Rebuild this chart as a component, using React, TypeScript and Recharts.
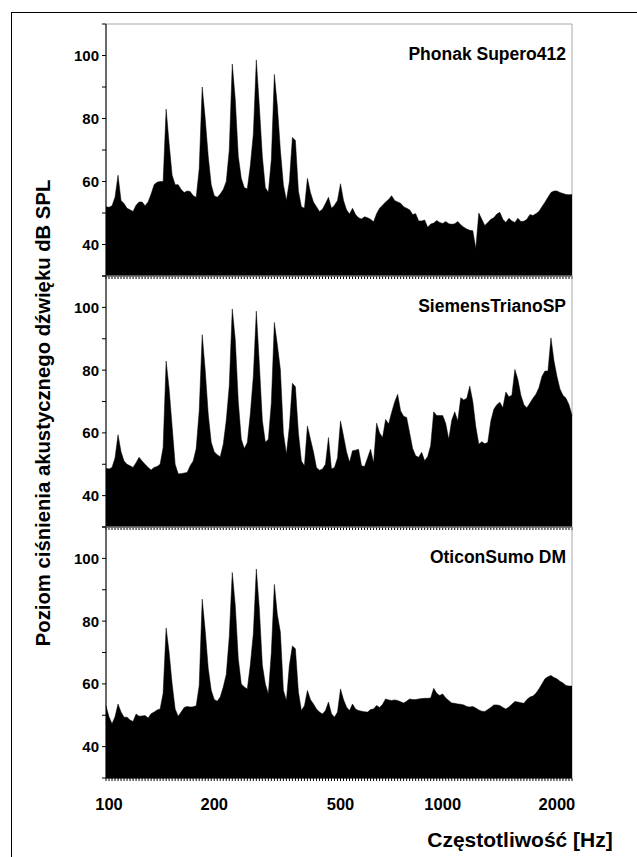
import { Area, AreaChart, ReferenceArea, XAxis, YAxis } from "recharts";

const FONT = '"Liberation Sans", Arial, sans-serif';

// Spectrum lines (category index) that carry a frequency label on the x axis.
const xTickIdx = [1, 36, 78, 112, 150];
const xTickText = ["100", "200", "500", "1000", "2000"];

const yTicks = [30, 40, 50, 60, 70, 80, 90, 100, 110];
const yLabelled = [40, 60, 80, 100];

// Sound pressure level [dB SPL], one value per spectrum line.
const phonak = [
  52, 51.8, 52.3, 55, 62, 54, 53, 51.5, 51, 50.5, 52.5, 53.5, 53.5, 52.3, 53.5, 56, 59, 59.8, 60, 60,
  83, 72, 62, 59, 59, 57.5, 56.5, 57, 56.8, 55.5, 55, 64, 90, 80, 68, 59, 55.5, 55, 56, 57.5,
  60, 70, 97.3, 86, 68, 61, 58, 57.7, 65, 75, 98.6, 84, 68, 58, 56.6, 67, 94, 84, 70, 59,
  54, 60, 74, 73, 57, 52, 51.5, 61, 56.5, 53.5, 52, 50.5, 51.2, 53, 55, 51.5, 52.5, 54, 59.3, 54,
  51, 49.7, 51.5, 49.5, 48.5, 48.1, 48.8, 48.5, 48, 47.2, 49.8, 51.5, 52.5, 53.5, 54.3, 55.5, 54, 53.5, 53.1, 52,
  51.5, 51, 49.5, 49.8, 47.5, 47.5, 47.8, 45.5, 46.5, 46.8, 47.6, 47, 46.7, 47.3, 46.6, 46.4, 46.6, 47.3, 46.3, 45.5,
  44.9, 44.5, 44.4, 38.7, 50, 48, 46, 47, 48, 48.5, 49.7, 50.2, 48, 47, 48.3, 47.5, 47, 48.3, 47.3, 47.4,
  48, 49.5, 49.2, 49.8, 50.5, 52, 53.4, 55, 56.5, 57, 57, 56.5, 56.2, 55.9, 55.8, 55.9,
];

const siemens = [
  48.7, 48.5, 49, 52, 59.4, 54, 51, 50, 49.5, 49, 50.5, 52.2, 51, 50, 49, 48.2, 49, 49.3, 50, 55.3,
  82.9, 74, 62, 50, 47, 47, 47.2, 47.4, 49.5, 51, 55, 67, 91.3, 80, 66, 57, 54, 53, 52.4, 56.4,
  64, 75, 99.5, 89.7, 70, 58, 55, 56.9, 66, 78, 98.8, 82, 64, 57, 58, 69.6, 95.2, 88, 80.2, 60,
  53.2, 62, 75.8, 74.7, 60, 51, 49.5, 62.2, 58, 54, 49, 48.1, 48.5, 50, 58.5, 48.5, 49, 52, 63.8, 59,
  54, 50.6, 54.3, 54.5, 54.8, 49.5, 49.3, 52, 54.8, 50.4, 63.1, 60, 58.5, 64.3, 62.8, 66.5, 69.8, 72.3, 67, 65.3,
  64.9, 60, 55, 52.7, 52.2, 53.8, 51.1, 52.5, 56, 66.7, 65.5, 65.5, 65.5, 63, 58, 64, 66.7, 63.8, 71.2, 70.5,
  71, 74.9, 70, 62, 56.4, 57.2, 56.5, 57, 63.8, 67.5, 69, 69.8, 68, 73, 71.5, 72, 80.2, 77, 72, 69,
  68, 69.5, 71, 72.3, 74.4, 78, 79.7, 79.7, 90.3, 83, 78, 74, 72, 71, 69, 65.6,
];

const oticon = [
  53, 49.5, 47.3, 49.5, 53.6, 51, 49.4, 49.4, 48.5, 48, 50.4, 49.7, 49.8, 49.9, 49.1, 50.5, 51, 51.7, 52, 57,
  77.8, 70, 60, 52, 49.7, 51, 52.5, 52.8, 52.6, 52.7, 53, 59.5, 87, 77, 65, 58, 55, 54.5, 55.8, 59,
  63, 75, 95.5, 85, 68, 60, 59, 58.4, 66, 76, 96.6, 84, 66, 60, 56.8, 70.1, 91.7, 82, 76.5, 58,
  54.7, 66, 72.1, 71.2, 57.4, 51.5, 53, 57.9, 55, 53.6, 52, 51, 50.4, 51.5, 54.2, 50.5, 49.4, 51, 58.4, 55,
  52.6, 51.5, 53.6, 52, 51.5, 51.3, 51.1, 51, 51.8, 52, 53.1, 52.5, 53.5, 55.2, 54.9, 54.7, 54.9, 54.7, 54.3, 53.9,
  54.5, 55.2, 55, 55, 55.2, 55.3, 55.4, 55.4, 55.5, 58.6, 57, 56.3, 56.8, 55.5, 54.7, 53.9, 53.8, 53.6, 53.5, 53.3,
  52.8, 52.6, 52.8, 52.3, 51.7, 51.3, 51.2, 51.8, 52.5, 53.3, 53.3, 53.1, 52.5, 52, 52.6, 53.5, 54.4, 54.2, 54, 53.8,
  55, 55.8, 56.1, 57, 58.4, 60, 61.6, 62.3, 62.7, 62, 61.6, 60.8, 60.3, 59.5, 59.3, 59.3,
];

const deviceNames = ["Phonak Supero412", "SiemensTrianoSP", "OticonSumo DM"];
const deviceValues = [phonak, siemens, oticon];

const PLOT_LEFT = 106;
const PLOT_RIGHT = 572;
const CHART_W = 600;
const PANEL_TOPS = [24, 276, 527];
const PANEL_BOTTOM = 778;

const EmptyTick = () => <g />;

const XLabelTick = (props: any) => {
  const { x, y, payload } = props;
  const k = xTickIdx.indexOf(payload.value);
  if (k < 0) return <g />;
  return (
    <text x={x} y={y} dy={27} textAnchor="middle" fontFamily={FONT} fontWeight="bold" fontSize={16.5} fill="#000">
      {xTickText[k]}
    </text>
  );
};

const YLabelTick = (props: any) => {
  const { x, y, payload } = props;
  if (!yLabelled.includes(payload.value)) return <g />;
  return (
    <text x={x} y={y} dy="0.36em" textAnchor="end" fontFamily={FONT} fontWeight="bold" fontSize={15} fill="#000">
      {payload.value}
    </text>
  );
};

function Panel({ values, top, plotH, bottomAxis }: { values: number[]; top: number; plotH: number; bottomAxis: boolean }) {
  const rows = values.map((v, i) => ({ i, v }));
  const last = rows.length - 1;
  const xh = bottomAxis ? 40 : 10;
  return (
    <div style={{ position: "absolute", left: 0, top: top - 5 }}>
      <AreaChart
        width={CHART_W}
        height={5 + plotH + xh}
        data={rows}
        margin={{ top: 5, right: CHART_W - PLOT_RIGHT, bottom: 0, left: 0 }}
      >
        <ReferenceArea x1={0} x2={last} y1={30} y2={110} fill="none" stroke="#a8a8a8" ifOverflow="visible" />
        <XAxis
          type="number"
          dataKey="i"
          domain={[0, last]}
          ticks={rows.map((r) => r.i)}
          interval={0}
          height={xh}
          tickSize={3}
          axisLine={{ stroke: "#000" }}
          tickLine={{ stroke: "#000" }}
          tick={bottomAxis ? XLabelTick : EmptyTick}
        />
        <YAxis
          type="number"
          domain={[30, 110]}
          ticks={yTicks}
          interval={0}
          width={PLOT_LEFT}
          tickSize={4}
          tickMargin={3}
          axisLine={{ stroke: "#000" }}
          tickLine={{ stroke: "#000" }}
          tick={YLabelTick}
        />
        <Area
          type="linear"
          dataKey="v"
          stroke="#000"
          strokeWidth={0.5}
          fill="#000"
          fillOpacity={1}
          dot={false}
          activeDot={false}
          isAnimationActive={false}
        />
      </AreaChart>
    </div>
  );
}

export default function App() {
  return (
    <div style={{ position: "fixed", left: 0, top: 0, width: 637, height: 857, overflow: "hidden", background: "#fff" }}>
      <div
        style={{
          position: "absolute",
          left: 11,
          top: 12,
          width: 700,
          height: 900,
          borderLeft: "1px solid #000",
          borderTop: "1px solid #000",
        }}
      />
      {deviceValues.map((vals, p) => {
        const top = PANEL_TOPS[p];
        const bottom = p < 2 ? PANEL_TOPS[p + 1] : PANEL_BOTTOM;
        return <Panel key={p} values={vals} top={top} plotH={bottom - top} bottomAxis={p === 2} />;
      })}
      <svg width={637} height={857} style={{ position: "absolute", left: 0, top: 0, pointerEvents: "none" }}>
        {deviceNames.map((name, p) => (
          <text
            key={name}
            x={566}
            y={PANEL_TOPS[p] + 36}
            textAnchor="end"
            fontFamily={FONT}
            fontWeight="bold"
            fontSize={17.5}
            fill="#000"
          >
            {name}
          </text>
        ))}
        <text x={520} y={847} textAnchor="middle" fontFamily={FONT} fontWeight="bold" fontSize={21} fill="#000">
          Częstotliwość [Hz]
        </text>
        <text
          transform="translate(50,413) rotate(-90)"
          textAnchor="middle"
          fontFamily={FONT}
          fontWeight="bold"
          fontSize={20.3}
          fill="#000"
        >
          Poziom ciśnienia akustycznego dźwięku dB SPL
        </text>
      </svg>
    </div>
  );
}
